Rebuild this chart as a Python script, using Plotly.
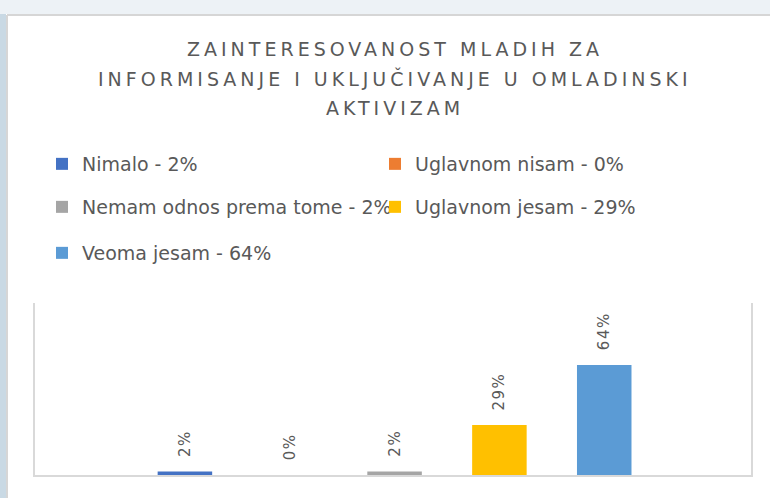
import plotly.graph_objects as go

categories = ["Nimalo", "Uglavnom nisam", "Nemam odnos prema tome", "Uglavnom jesam", "Veoma jesam"]
values = [2, 0, 2, 29, 64]
colors = ["#4472C4", "#ED7D31", "#A5A5A5", "#FFC000", "#5B9BD5"]
title_lines = ["ZAINTERESOVANOST MLADIH ZA",
               "INFORMISANJE I UKLJUČIVANJE U OMLADINSKI",
               "AKTIVIZAM"]

W, H = 770, 498
L, R, T, B = 35, 19, 303, 23
PW, PH = W - L - R, H - T - B

def px_x(px):
    return (px - L) / PW

def px_y(py):
    return (H - B - py) / PH

TXT = "#595959"
FONT = "DejaVu Sans"

fig = go.Figure()

legend_pos = [(42, 164), (375, 164), (42, 207), (375, 207), (42, 253)]
for i, (cat, val, col) in enumerate(zip(categories, values, colors)):
    lname = "legend" if i == 0 else f"legend{i+1}"
    fig.add_trace(go.Bar(
        x=[cat], y=[val], name=f"{cat} - {val}%",
        marker=dict(color=col, line=dict(width=0)),
        width=0.52, legend=lname, hoverinfo="name",
    ))
    fig.add_annotation(
        x=cat, y=val, xref="x", yref="y",
        text=f'<span style="letter-spacing:1.5px">{val}%</span>',
        textangle=-90, yanchor="bottom", xanchor="center", yshift=13,
        showarrow=False, font=dict(family=FONT, size=15, color=TXT),
    )

legends = {}
for i, (lx, ly) in enumerate(legend_pos):
    key = "legend" if i == 0 else f"legend{i+1}"
    legends[key] = dict(
        x=lx / W, y=1 - ly / H, xref="container", yref="container",
        xanchor="left", yanchor="middle", orientation="h",
        bgcolor="rgba(0,0,0,0)", borderwidth=0,
        font=dict(family=FONT, size=19, color=TXT),
    )

for line, cy in zip(title_lines, [49, 79, 108]):
    fig.add_annotation(
        x=px_x(395), y=px_y(cy), xref="paper", yref="paper",
        text=f'<span style="letter-spacing:4px">{line}</span>',
        showarrow=False, xanchor="center", yanchor="middle",
        font=dict(family=FONT, size=19, color=TXT),
    )

shapes = [
    dict(type="rect", xref="paper", yref="paper", x0=px_x(-5), x1=px_x(W + 5),
         y0=px_y(14), y1=px_y(-5), fillcolor="#edf2f6", line=dict(width=0), layer="below"),
    dict(type="rect", xref="paper", yref="paper", x0=px_x(-5), x1=px_x(6),
         y0=px_y(H + 5), y1=px_y(14), fillcolor="#c9d9e4", line=dict(width=0), layer="below"),
    dict(type="line", xref="paper", yref="paper", x0=px_x(7), x1=px_x(W + 5),
         y0=px_y(15), y1=px_y(15), line=dict(color="#d6d6d6", width=2), layer="below"),
    dict(type="line", xref="paper", yref="paper", x0=px_x(7), x1=px_x(7),
         y0=px_y(15), y1=px_y(H + 5), line=dict(color="#d6d6d6", width=2), layer="below"),
]

fig.update_layout(
    width=W, height=H,
    margin=dict(l=L, r=R, t=T, b=B, pad=0, autoexpand=False),
    paper_bgcolor="white", plot_bgcolor="white",
    barmode="overlay",
    showlegend=True,
    shapes=shapes,
    font=dict(family=FONT, color=TXT),
    **legends,
)
fig.update_xaxes(
    type="category", categoryorder="array", categoryarray=categories,
    range=[-1.43, 5.40], showticklabels=False, ticks="", showgrid=False,
    showline=True, linecolor="#d9d9d9", linewidth=2, zeroline=False, fixedrange=True,
)
fig.update_yaxes(
    range=[0, 100], showticklabels=False, ticks="", showgrid=False,
    showline=True, mirror=True, linecolor="#d9d9d9", linewidth=2, zeroline=False,
    fixedrange=True,
)

fig.write_html(
    "out.html",
    config={"displayModeBar": False},
    post_script="document.body.style.margin='0';document.body.style.overflow='hidden';",
)
